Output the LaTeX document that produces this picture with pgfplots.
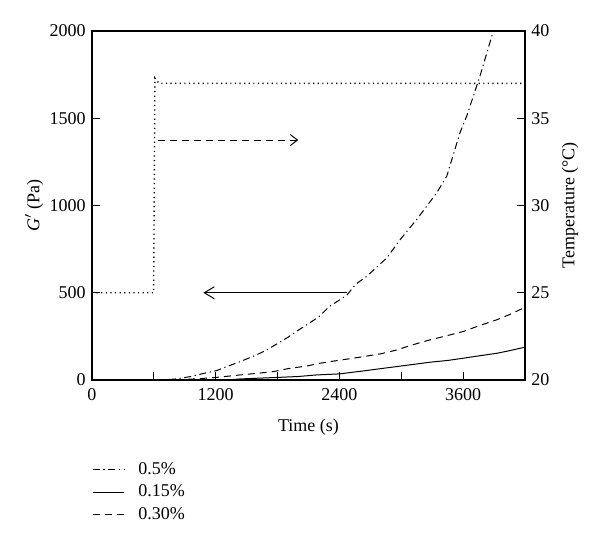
\documentclass[border=0pt]{standalone}
\usepackage{pgfplots}
\pgfplotsset{compat=1.18}
\usepackage{fontspec}
\setmainfont{Liberation Serif}
\usetikzlibrary{arrows.meta}

\pgfplotstableread{
t G
0 0
600 0
700 2
800 5
950 19
1100 40
1209 54
1300 75
1436 105
1600 145
1694 172
1888 240
2000 285
2082 316
2200 362
2300 420
2470 485
2560 550
2665 594
2860 700
2990 805
3150 920
3344 1073
3441 1168
3570 1418
3635 1513
3764 1743
3893 2000
}\halfpct

\pgfplotstableread{
t G
0 0
1300 0
1436 6
1807 15
2000 20
2179 29
2400 35
2632 52
2800 65
2956 77
3100 88
3279 102
3450 112
3602 125
3750 138
3926 153
4050 168
4184 186
4200 190
}\lowpct

\pgfplotstableread{
t G
0 0
700 0
900 3
1050 8
1209 15
1436 29
1600 38
1759 48
1900 65
2082 80
2200 95
2373 111
2500 122
2632 134
2800 150
2956 172
3100 200
3279 230
3450 255
3602 278
3750 310
3926 345
4050 375
4184 412
4200 415
}\midpct

\pgfplotstableread{
t T
0 25
598 25
610 37.3
650 37.0
4200 37.0
}\temp

\begin{document}
\fontsize{9}{11}\selectfont
\begin{tikzpicture}
\pgfplotsset{
  base/.style={width=216.5pt,height=174.5pt,scale only axis,
    xmin=0,xmax=4200,tick align=inside,
    major tick length=4pt,minor tick length=4pt,
    /pgf/number format/assume math mode=true,
    /pgf/number format/1000 sep={},scaled ticks=false,
    tick label style={font=\fontsize{9}{11}\selectfont},
    label style={font=\fontsize{9}{11}\selectfont},
    axis line style={line width=0.6pt},
    every tick/.style={line width=0.5pt,black}},
}
\begin{axis}[base,name=main,
  ymin=0,ymax=2000,ytick={0,500,...,2000},ytick pos=left,
  xtick={0,1200,2400,3600},minor xtick={600,1800,3000},xtick pos=bottom,
  xticklabel style={yshift=-1pt},
  xlabel={Time (s)},ylabel={\textit{G}$'$ (Pa)},
  xlabel style={yshift=-3pt},ylabel style={yshift=-3pt},
  legend style={at={(0,-0.2)},anchor=north west,yshift=-2pt,draw=none,fill=none,
    cells={anchor=west},font=\fontsize{9}{11}\selectfont,row sep=0pt,
    inner xsep=0pt},
  legend image code/.code={\draw[#1] (0pt,0pt) -- (15.5pt,0pt); \path (20.5pt,0pt);},
]
\addplot[black,line width=0.5pt,dash pattern=on 3.5pt off 1.8pt on 0.6pt off 1.8pt] table[x=t,y=G] {\halfpct};
\addlegendentry{0.5\%}
\addplot[black,line width=0.5pt] table[x=t,y=G] {\lowpct};
\addlegendentry{0.15\%}
\addplot[black,line width=0.5pt,dash pattern=on 3.5pt off 2.5pt] table[x=t,y=G] {\midpct};
\addlegendentry{0.30\%}
\draw[line width=0.5pt,-{Straight Barb[length=5pt,width=6pt]}] (axis cs:2470,500) -- (axis cs:1080,500);
\draw[line width=0.5pt,dash pattern=on 3.5pt off 2.5pt,-{Straight Barb[length=3.5pt,width=5.5pt]}] (axis cs:640,1375) -- (axis cs:2000,1375);
\end{axis}
\begin{axis}[base,
  axis y line*=right,axis x line=none,
  ymin=20,ymax=40,ytick={20,25,...,40},
  ylabel={Temperature (°C)},
]
\addplot[black,line width=0.7pt,dash pattern=on 0.6pt off 1.7pt] table[x=t,y=T] {\temp};
\end{axis}
\path ([shift={(-46pt,-82.5pt)}]main.south west) rectangle ([shift={(37.5pt,15.5pt)}]main.north east);
\end{tikzpicture}
\end{document}
